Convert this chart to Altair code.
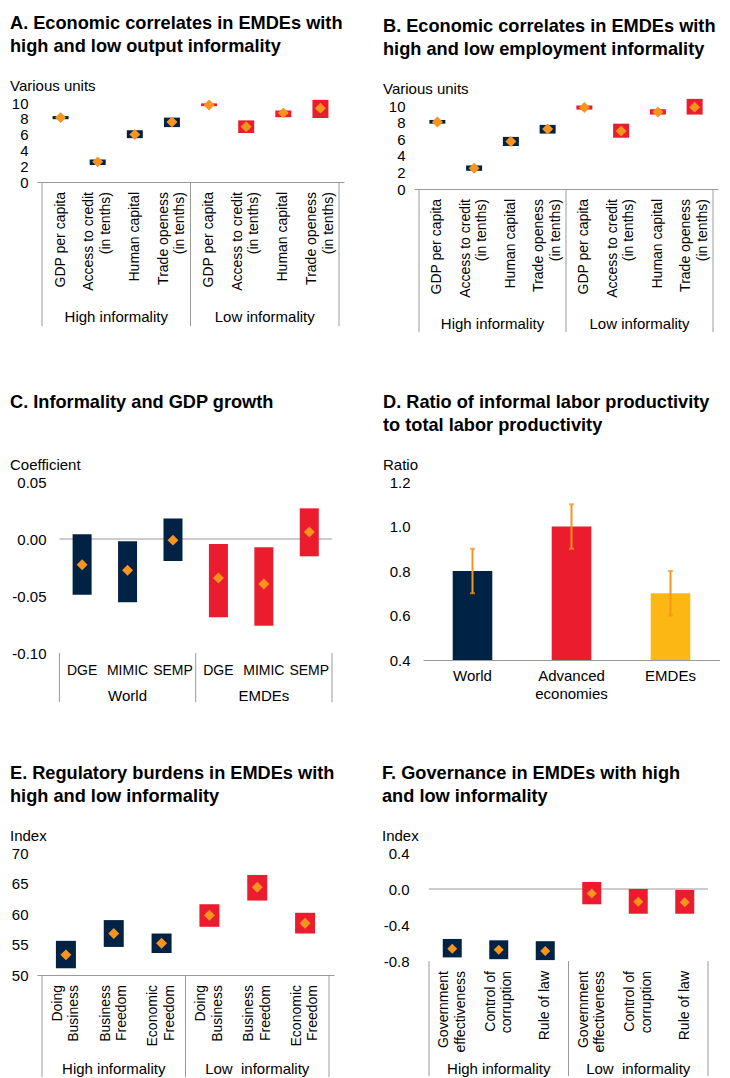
import altair as alt
import pandas as pd

NAVY = "#002345"
RED = "#EB1C2D"
ORANGE = "#F7941D"
YELLOW = "#FDB714"
GRAY = "#9a9a9a"
FONT = "Liberation Sans"

# ---------------- Panel A ----------------
A_cats = ["GDP per capita", "Access to credit\n(in tenths)", "Human capital", "Trade openess\n(in tenths)"]
A_groups = ["High informality", "Low informality"]
A_high_lo = [7.95, 2.15, 5.55, 6.95]
A_high_hi = [8.35, 2.85, 6.55, 8.15]
A_high_mid = [8.15, 2.55, 6.0, 7.6]
A_low_lo = [9.6, 6.2, 8.2, 8.1]
A_low_hi = [9.95, 7.8, 9.05, 10.4]
A_low_mid = [9.75, 7.0, 8.75, 9.35]

# ---------------- Panel B ----------------
B_cats = A_cats
B_groups = ["High informality", "Low informality"]
B_high_lo = [7.9, 2.2, 5.2, 6.7]
B_high_hi = [8.35, 2.85, 6.3, 7.75]
B_high_mid = [8.1, 2.5, 5.75, 7.25]
B_low_lo = [9.6, 6.2, 9.0, 9.0]
B_low_hi = [10.1, 7.9, 9.65, 10.9]
B_low_mid = [9.85, 7.0, 9.3, 9.9]

# ---------------- Panel C ----------------
C_cats = ["DGE", "MIMIC", "SEMP"]
C_groups = ["World", "EMDEs"]
C_world_lo = [-0.049, -0.0555, -0.0193]
C_world_hi = [0.0041, -0.002, 0.018]
C_world_mid = [-0.0225, -0.0275, -0.001]
C_emde_lo = [-0.0687, -0.076, -0.0152]
C_emde_hi = [-0.0044, -0.0073, 0.0269]
C_emde_mid = [-0.0342, -0.0395, 0.0061]

# ---------------- Panel D ----------------
D_cats = ["World", "Advanced economies", "EMDEs"]
D_vals = [0.8, 1.0, 0.7]
D_lo = [0.7, 0.9, 0.6]
D_hi = [0.9, 1.1, 0.8]
D_colors = [NAVY, RED, YELLOW]

# ---------------- Panel E ----------------
E_cats = ["Doing\nBusiness", "Business\nFreedom", "Economic\nFreedom"]
E_groups = ["High informality", "Low\u00a0 informality"]
E_high_lo = [51.1, 54.6, 53.6]
E_high_hi = [55.6, 59.0, 56.8]
E_high_mid = [53.3, 56.8, 55.2]
E_low_lo = [57.9, 62.2, 56.8]
E_low_hi = [61.6, 66.4, 60.2]
E_low_mid = [59.8, 64.4, 58.5]

# ---------------- Panel F ----------------
F_cats = ["Government\neffectiveness", "Control of\ncorruption", "Rule of law"]
F_groups = ["High informality", "Low\u00a0 informality"]
F_high_lo = [-0.76, -0.78, -0.79]
F_high_hi = [-0.555, -0.57, -0.58]
F_high_mid = [-0.665, -0.675, -0.69]
F_low_lo = [-0.17, -0.275, -0.275]
F_low_hi = [0.078, 0.0, -0.01]
F_low_mid = [-0.05, -0.142, -0.146]

LINE_H = 16.5


def range_df(cats, groups, los, his, mids, colors):
    rows = []
    i = 0
    for g, lo, hi, mid, col in zip(groups, los, his, mids, colors):
        for c, l, h, m in zip(cats, lo, hi, mid):
            rows.append(dict(idx=i, cat=c, group=g, lo=l, hi=h, mid=m, color=col,
                             multi=("\n" in c)))
            i += 1
    df = pd.DataFrame(rows)
    bnd = [df[df.group == g].idx.min() - 0.5 for g in groups] + [df.idx.max() + 0.5]
    return df, pd.DataFrame({"b": bnd})


def range_panel(df, bnd, title, sub, ydom, yticks, yfmt, width, height, bar_size,
                pt_size, rotate, cat_dy, grp_dy, line_dy, axis_line, zero_line, extent,
                lpad, lead=0.0):
    n = len(df)
    step = (width - lead) / n
    xscale = alt.Scale(domain=[-0.5 - lead / step, n - 0.5], nice=False, zero=False)
    xaxis = alt.Axis(title=None, labels=False, ticks=False, grid=False,
                     domain=axis_line, domainColor=GRAY)
    yscale = alt.Scale(domain=ydom, nice=False, zero=False)
    yaxis = alt.Axis(title=None, values=yticks, format=yfmt, domain=False, ticks=False,
                     grid=False, labelFontSize=15, labelPadding=lpad, labelColor="black",
                     minExtent=extent, maxExtent=extent,
                     labelExpr="replace(datum.label, '\u2212', '-')")
    X = lambda f: alt.X(f, scale=xscale, axis=xaxis)
    Y = lambda f: alt.Y(f, scale=yscale, axis=yaxis)
    base = alt.Chart(df)
    layers = []
    if zero_line:
        zdf = pd.DataFrame({"z": [0], "x0": [bnd.b.min()], "x1": [bnd.b.max()]})
        layers.append(alt.Chart(zdf).mark_rule(color=GRAY, strokeWidth=1)
                      .encode(y=Y("z:Q"), x=X("x0:Q"), x2="x1:Q"))
    layers.append(base.mark_bar(size=bar_size, orient="vertical").encode(
        x=X("idx:Q"), y=Y("lo:Q"), y2="hi:Q", color=alt.Color("color:N", scale=None)))
    layers.append(base.mark_point(shape="diamond", filled=True, size=pt_size, color=ORANGE,
                                  opacity=1).encode(x=X("idx:Q"), y=Y("mid:Q")))
    for is_multi in (False, True):
        sub_df = base.transform_filter(f"datum.multi == {'true' if is_multi else 'false'}")
        layers.append(sub_df.mark_text(angle=270 if rotate else 0,
                                       align="right" if rotate else "center",
                                       baseline="middle", lineBreak="\n", fontSize=14,
                                       lineHeight=LINE_H, font=FONT, color="black",
                                       dy=-LINE_H / 2 if is_multi else 0).encode(
            x=X("idx:Q"), y=alt.value(height + cat_dy), text="cat:N"))
    layers.append(base.transform_aggregate(center="mean(idx)", groupby=["group"])
                  .mark_text(fontSize=15, font=FONT, color="black", baseline="middle")
                  .encode(x=X("center:Q"), y=alt.value(height + grp_dy), text="group:N"))
    layers.append(alt.Chart(bnd).mark_rule(color=GRAY, strokeWidth=1).encode(
        x=X("b:Q"), y=alt.value(height), y2=alt.value(height + line_dy)))
    return alt.layer(*layers).properties(
        width=width, height=height, title=alt.TitleParams(text=title, subtitle="\u00a0" + sub))


dfA, bA = range_df(A_cats, A_groups, [A_high_lo, A_low_lo], [A_high_hi, A_low_hi],
                   [A_high_mid, A_low_mid], [NAVY, RED])
dfB, bB = range_df(B_cats, B_groups, [B_high_lo, B_low_lo], [B_high_hi, B_low_hi],
                   [B_high_mid, B_low_mid], [NAVY, RED])
dfC, bC = range_df(C_cats, C_groups, [C_world_lo, C_emde_lo], [C_world_hi, C_emde_hi],
                   [C_world_mid, C_emde_mid], [NAVY, RED])
dfE, bE = range_df(E_cats, E_groups, [E_high_lo, E_low_lo], [E_high_hi, E_low_hi],
                   [E_high_mid, E_low_mid], [NAVY, RED])
dfF, bF = range_df(F_cats, F_groups, [F_high_lo, F_low_lo], [F_high_hi, F_low_hi],
                   [F_high_mid, F_low_mid], [NAVY, RED])

pA = range_panel(dfA, bA, ["A. Economic correlates in EMDEs with", "high and low output informality"],
                 "Various units", [0, 10], [0, 2, 4, 6, 8, 10], "d", 307, 79, 16, 120, True,
                 10, 135, 144, True, False, 27, 9)
pB = range_panel(dfB, bB, ["B. Economic correlates in EMDEs with", "high and low employment informality"],
                 "Various units", [0, 10.4], [0, 2, 4, 6, 8, 10], "d", 304, 86, 16, 120, True,
                 10, 135, 143, True, False, 31, 9)
pC = range_panel(dfC, bC, ["C. Informality and GDP growth", "\u00a0"],
                 "Coefficient", [-0.10, 0.05], [-0.10, -0.05, 0.0, 0.05], ".2f", 300, 171, 19, 120,
                 False, 18, 43, 49, False, True, 27, -9, lead=18)
pE = range_panel(dfE, bE, ["E. Regulatory burdens in EMDEs with", "high and low informality"],
                 "Index", [50, 70], [50, 55, 60, 65, 70], "d", 297, 122, 20, 120, True,
                 10, 94, 102, True, False, 27, 9)
pF = range_panel(dfF, bF, ["F. Governance in EMDEs with high", "and low informality"],
                 "Index", [-0.8, 0.4], [-0.8, -0.4, 0.0, 0.4], ".1f", 289, 108, 19, 100, True,
                 10, 108, 115, False, True, 42, 15)

# Panel D
dfD = pd.DataFrame({"cat": D_cats, "val": D_vals, "lo": D_lo, "hi": D_hi, "color": D_colors})
dx = alt.X("cat:N", sort=D_cats, scale=alt.Scale(paddingInner=0.6, paddingOuter=0.3),
           axis=alt.Axis(title=None, labelAngle=0, ticks=False, domainColor=GRAY,
                         labelFontSize=15, labelPadding=8, labelColor="black",
                         labelLineHeight=18, labelExpr="split(datum.label, ' ')"))
dyscale = alt.Scale(domain=[0.4, 1.2], nice=False, zero=False)
dyaxis = alt.Axis(title=None, values=[0.4, 0.6, 0.8, 1.0, 1.2], format=".1f", domain=False,
                  ticks=False, grid=False, labelFontSize=15, labelPadding=13, labelColor="black",
                  minExtent=40, maxExtent=40)
baseD = alt.Chart(dfD)
dBars = baseD.mark_bar(clip=True).encode(x=dx, y=alt.Y("val:Q", scale=dyscale, axis=dyaxis),
                                         color=alt.Color("color:N", scale=None))
dErr = baseD.mark_rule(color=ORANGE, strokeWidth=2).encode(
    x=dx, y=alt.Y("lo:Q", scale=dyscale, axis=dyaxis), y2="hi:Q")
dCapLo = baseD.mark_tick(color=ORANGE, size=5, thickness=2).encode(
    x=dx, y=alt.Y("lo:Q", scale=dyscale, axis=dyaxis))
dCapHi = baseD.mark_tick(color=ORANGE, size=5, thickness=2).encode(
    x=dx, y=alt.Y("hi:Q", scale=dyscale, axis=dyaxis))
pD = alt.layer(dBars, dErr, dCapLo, dCapHi).properties(
    width=297, height=178,
    title=alt.TitleParams(text=["D. Ratio of informal labor productivity", "to total labor productivity"],
                          subtitle="\u00a0Ratio"))

row1 = alt.hconcat(pA, pB, spacing=39)
row2 = alt.hconcat(pC, pD, spacing=46)
row3 = alt.hconcat(pE, pF, spacing=47)

chart = alt.vconcat(row1, row2, row3, spacing=60).properties(
    padding={"left": 2, "top": 6, "right": 0, "bottom": 0}
).configure(font=FONT).configure_view(stroke=None).configure_title(
    font=FONT, fontSize=18.2, fontWeight="bold", color="black", anchor="start", lineHeight=22.5,
    subtitleFont=FONT, subtitleFontSize=15, subtitleColor="black", subtitlePadding=23,
    offset=1, frame="bounds"
)

chart.save("out.html", embed_options={"renderer": "svg", "actions": False})
